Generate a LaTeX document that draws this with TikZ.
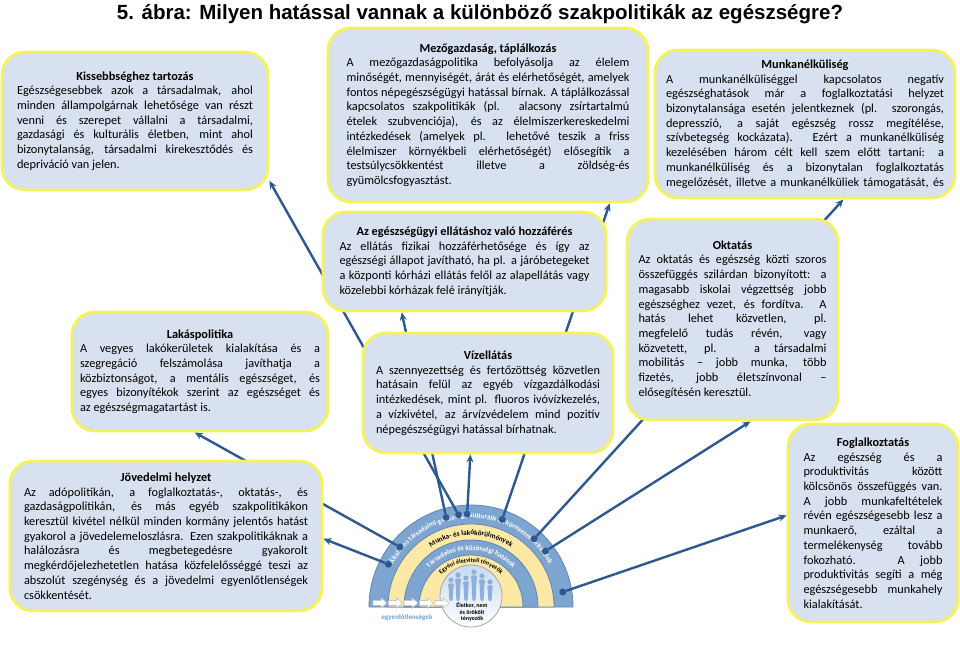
\documentclass[tikz,border=0pt]{standalone}
\usepackage{fontspec}
\setmainfont{Carlito}
\newfontfamily\titlefont{Liberation Sans}
\usetikzlibrary{arrows.meta,decorations.text}
\setlength{\parindent}{0pt}

\definecolor{boxfill}{RGB}{216,225,240}
\definecolor{boxline}{RGB}{245,242,90}
\definecolor{linkblue}{RGB}{46,88,145}
\definecolor{ringblue}{RGB}{126,164,208}
\definecolor{ringedge}{RGB}{96,134,184}
\definecolor{ringyellow}{RGB}{252,233,166}
\definecolor{peopleblue}{RGB}{140,176,218}
\definecolor{circletop}{RGB}{200,218,240}
\definecolor{ineqblue}{RGB}{110,160,205}

\pgfdeclarelayer{bg}
\pgfsetlayers{bg,main}

% egy sorkizárt sor, illetve középre zárt cím a dobozokban
\newcommand{\jline}[1]{{\spaceskip=0pt\xspaceskip=0pt\makebox[\hsize][s]{#1}}\par}
\newcommand{\bhead}[1]{\makebox[\hsize]{\bfseries #1}\par}

\begin{document}
\begin{tikzpicture}[x=1pt, y=1pt,
    policy/.style={draw=boxline, line width=2.8pt, fill=boxfill, rounded corners=23pt,
        align=flush left, inner sep=0pt, font=\fontsize{12.3}{14.7}\selectfont},
    link/.style={draw=linkblue, line width=2.4pt, -{Stealth[length=8pt,width=7pt]}},
    hub/.style={circle, fill=linkblue, inner sep=0pt, minimum size=7pt},
    ringtext/.style={decorate, decoration={text along path, text align=center, text={#1}}}
]
    \useasboundingbox (0,0) rectangle (960,646);

    % cím
    \node[anchor=base, font=\titlefont\bfseries\fontsize{20.5}{23}\selectfont] (title) at (480,626)
        {5. ábra: Milyen hatással vannak a különböző szakpolitikák az egészségre?};

    % felső sor
    \node[policy, minimum width=266pt, minimum height=138pt, text width=236pt] (kiseb) at (135,525) {%
        \bhead{Kissebbséghez tartozás}
        \jline{Egészségesebbek azok a társadalmak, ahol}
        \jline{minden állampolgárnak lehetősége van részt}
        \jline{venni és szerepet vállalni a társadalmi,}
        \jline{gazdasági és kulturális életben, mint ahol}
        \jline{bizonytalanság, társadalmi kirekesztődés és}
        depriváció van jelen.};
    \node[policy, minimum width=320pt, minimum height=174pt, text width=283pt] (mezo) at (488,531) {%
        \bhead{Mezőgazdaság, táplálkozás}
        \jline{A mezőgazdaságpolitika befolyásolja az élelem}
        \jline{minőségét, mennyiségét, árát és elérhetőségét, amelyek}
        \jline{fontos népegészségügyi hatással bírnak. A táplálkozással}
        \jline{kapcsolatos szakpolitikák (pl. alacsony zsírtartalmú}
        \jline{ételek szubvenciója), és az élelmiszerkereskedelmi}
        \jline{intézkedések (amelyek pl. lehetővé teszik a friss}
        \jline{élelmiszer környékbeli elérhetőségét) elősegítik a}
        \jline{testsúlycsökkentést illetve a zöldség-és}
        gyümölcsfogyasztást.};
    \node[policy, minimum width=300pt, minimum height=148pt, text width=278pt] (munka) at (805,522) {%
        \bhead{Munkanélküliség}
        \jline{A munkanélküliséggel kapcsolatos negatív}
        \jline{egészséghatások már a foglalkoztatási helyzet}
        \jline{bizonytalansága esetén jelentkeznek (pl. szorongás,}
        \jline{depresszió, a saját egészség rossz megítélése,}
        \jline{szívbetegség kockázata). Ezért a munkanélküliség}
        \jline{kezelésében három célt kell szem előtt tartani: a}
        \jline{munkanélküliség és a bizonytalan foglalkoztatás}
        \jline{megelőzését, illetve a munkanélküliek támogatását, és}};

    % középső sor
    \node[policy, minimum width=283pt, minimum height=99pt, text width=250pt] (hozza) at (464.5,384.5) {%
        \bhead{Az egészségügyi ellátáshoz való hozzáférés}
        \jline{Az ellátás fizikai hozzáférhetősége és így az}
        \jline{egészségi állapot javítható, ha pl. a járóbetegeket}
        \jline{a központi kórházi ellátás felől az alapellátás vagy}
        közelebbi kórházak felé irányítják.};
    \node[policy, minimum width=211pt, minimum height=201pt, text width=188pt] (oktat) at (732.5,326.5) {%
        \bhead{Oktatás}
        \jline{Az oktatás és egészség közti szoros}
        \jline{összefüggés szilárdan bizonyított: a}
        \jline{magasabb iskolai végzettség jobb}
        \jline{egészséghez vezet, és fordítva. A}
        \jline{hatás lehet közvetlen, pl.}
        \jline{megfelelő tudás révén, vagy}
        \jline{közvetett, pl. a társadalmi}
        \jline{mobilitás – jobb munka, több}
        \jline{fizetés, jobb életszínvonal –}
        elősegítésén keresztül.};
    \node[policy, minimum width=256pt, minimum height=119pt, text width=240pt] (lakas) at (200,274.5) {%
        \bhead{Lakáspolitika}
        \jline{A vegyes lakókerületek kialakítása és a}
        \jline{szegregáció felszámolása javíthatja a}
        \jline{közbiztonságot, a mentális egészséget, és}
        \jline{egyes bizonyítékok szerint az egészséget és}
        az egészségmagatartást is.};
    \node[policy, minimum width=250pt, minimum height=120pt, text width=224pt] (viz) at (488,253) {%
        \bhead{Vízellátás}
        \jline{A szennyezettség és fertőzöttség közvetlen}
        \jline{hatásain felül az egyéb vízgazdálkodási}
        \jline{intézkedések, mint pl. fluoros ivóvízkezelés,}
        \jline{a vízkivétel, az árvízvédelem mind pozitív}
        népegészségügyi hatással bírhatnak.};

    % alsó sor
    \node[policy, minimum width=312pt, minimum height=150pt, text width=284pt] (jov) at (166,110) {%
        \bhead{Jövedelmi helyzet}
        \jline{Az adópolitikán, a foglalkoztatás-, oktatás-, és}
        \jline{gazdaságpolitikán, és más egyéb szakpolitikákon}
        \jline{keresztül kivétel nélkül minden kormány jelentős hatást}
        \jline{gyakorol a jövedelemeloszlásra. Ezen szakpolitikáknak a}
        \jline{halálozásra és megbetegedésre gyakorolt}
        \jline{megkérdőjelezhetetlen hatása közfelelősséggé teszi az}
        \jline{abszolút szegénység és a jövedelmi egyenlőtlenségek}
        csökkentését.};
    \node[policy, minimum width=170pt, minimum height=198pt, text width=139pt] (fogl) at (873,123) {%
        \bhead{Foglalkoztatás}
        \jline{Az egészség és a}
        \jline{produktivitás között}
        \jline{kölcsönös összefüggés van.}
        \jline{A jobb munkafeltételek}
        \jline{révén egészségesebb lesz a}
        \jline{munkaerő, ezáltal a}
        \jline{termelékenység tovább}
        \jline{fokozható. A jobb}
        \jline{produktivitás segíti a még}
        \jline{egészségesebb munkahely}
        kialakítását.};

    \begin{pgfonlayer}{bg}
    \fill[white] (0,0) rectangle (960,646);

    % szivárvány modell
    \begin{scope}[shift={(471,39)}]
        \filldraw[fill=ringblue, draw=ringedge, line width=0.8pt] (102,0) arc[start angle=0, end angle=180, radius=102pt] -- cycle;
        \filldraw[fill=ringyellow, draw=ringedge, line width=0.8pt] (83,0) arc[start angle=0, end angle=180, radius=83pt] -- cycle;
        \filldraw[fill=ringblue, draw=ringedge, line width=0.8pt] (67,0) arc[start angle=0, end angle=180, radius=67pt] -- cycle;
        \filldraw[fill=ringyellow, draw=ringedge, line width=0.8pt] (52,0) arc[start angle=0, end angle=180, radius=52pt] -- cycle;

        \path[ringtext={|\color{white}\bfseries\fontsize{7}{7}\selectfont|Általános társadalmi-gazdasági, kulturális és környezeti feltételek}]
            (176:89) arc[start angle=176, end angle=4, radius=89pt];
        \path[ringtext={|\bfseries\fontsize{7.2}{7.2}\selectfont|Munka- és lakókörülmények}]
            (170:72) arc[start angle=170, end angle=10, radius=72pt];
        \path[ringtext={|\color{white}\bfseries\fontsize{7}{7}\selectfont|Társadalmi és közösségi hatások}]
            (172:57) arc[start angle=172, end angle=8, radius=57pt];
        \path[ringtext={|\bfseries\fontsize{6.2}{6.2}\selectfont|Egyéni életviteli tényezők}]
            (176:44.5) arc[start angle=176, end angle=4, radius=44.5pt];

        % középső kör az emberekkel
        \shade[top color=circletop, bottom color=white] (0,11) circle[radius=31pt];
        \foreach \px/\ph in {-20/17, -13/22, -5/19, 3/25, 11/21, 19/15} {
            \fill[peopleblue] (\px,10+\ph) circle[radius=2.6pt];
            \fill[peopleblue, rounded corners=1.2pt] (\px-3,10+\ph-3.4) -- (\px+3,10+\ph-3.4)
                -- (\px+2.2,10+0.45*\ph) -- (\px+1.6,6) -- (\px-1.6,6) -- (\px-2.2,10+0.45*\ph) -- cycle;
        }
        \draw[gray!70, line width=0.8pt] (0,11) circle[radius=31pt];
        \node[align=center, font=\bfseries\fontsize{6}{6.6}\selectfont] (age) at (1,-5) {Életkor, nem\\és örökölt\\tényezők};

        % egyenlőtlenségek nyilai
        \foreach \ax in {-98,-82.5,-67,-51.5,-36}
            \filldraw[fill=white, draw=gray!45, line width=0.6pt]
                (\ax,1.5) -- (\ax+8,1.5) -- (\ax+8,-1) -- (\ax+14,4) -- (\ax+8,9) -- (\ax+8,6.5) -- (\ax,6.5) -- cycle;
        \node[font=\bfseries\fontsize{7}{7}\selectfont, text=ineqblue] (ineq) at (-64,-11) {egyenlőtlenségek};

        % kapcsolódási pontok
        \node[hub] (h-hozza) at (105.5:93) {};
        \node[hub] (h-kiseb) at (97.7:93) {};
        \node[hub] (h-viz) at (92.4:93) {};
        \node[hub] (h-mezo) at (70.4:93) {};
        \node[hub] (h-munka) at (47.2:93) {};
        \node[hub] (h-oktat) at (36.9:93) {};
        \node[hub] (h-fogl) at (9.3:93) {};
        \node[hub] (h-lakas) at (139.8:93) {};
        \node[hub] (h-jov) at (152.6:93) {};
    \end{scope}

    % nyilak a szakpolitikákhoz
    \draw[link] (h-hozza) -- (hozza.219);
    \draw[link] (h-kiseb) -- (kiseb.-24);
    \draw[link] (h-viz) -- (viz.254);
    \draw[link] (h-mezo) -- (mezo.-36);
    \draw[link] (h-munka) -- (munka.-63);
    \draw[link] (h-oktat) -- (oktat.-80);
    \draw[link] (h-fogl) -- (fogl.175);
    \draw[link] (h-lakas) -- (lakas.-95);
    \draw[link] (h-jov) -- (jov.-1);
    \end{pgfonlayer}
\end{tikzpicture}
\end{document}
